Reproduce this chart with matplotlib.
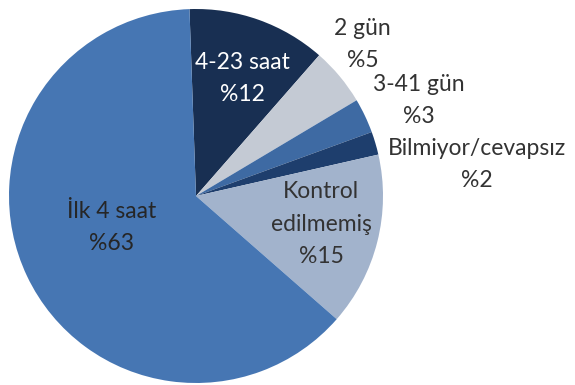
import numpy as np
import matplotlib.pyplot as plt

plt.rcParams['font.family'] = ['Lato', 'DejaVu Sans']

labels = ['4-23 saat', '2 gün', '3-41 gün', 'Bilmiyor/cevapsız', 'Kontrol\nedilmemiş', 'İlk 4 saat']
values = [12, 5, 3, 2, 15, 63]
colors = ['#182f52', '#c4cad4', '#3e6aa3', '#1e3e6d', '#a2b3cc', '#4676b3']
text_colors = ['white', '#333333', '#333333', '#333333', '#333333', '#262626']
# label anchor points in pie units (radius 1)
label_xy = [(0.25, 0.63), (0.89, 0.81), (1.19, 0.51), (1.50, 0.17), (0.67, -0.15), (-0.45, -0.17)]

fig = plt.figure(figsize=(5.75, 3.85), dpi=100)
cx, cy, r = 196, 196, 187
ax = fig.add_axes([(cx - r) / 575, (385 - cy - r) / 385, 2 * r / 575, 2 * r / 385])

wedges, _ = ax.pie(values, colors=colors, startangle=92, counterclock=False,
                   radius=1, wedgeprops=dict(linewidth=0))
ax.set_xlim(-1, 1)
ax.set_ylim(-1, 1)
ax.set_aspect('equal')
ax.axis('off')

for lab, v, (x, y), tc in zip(labels, values, label_xy, text_colors):
    ax.text(x, y, f'{lab}\n%{v}', ha='center', va='center', color=tc,
            fontsize=16.5, linespacing=1.65, clip_on=False)

fig.savefig('out.png', dpi=100)
